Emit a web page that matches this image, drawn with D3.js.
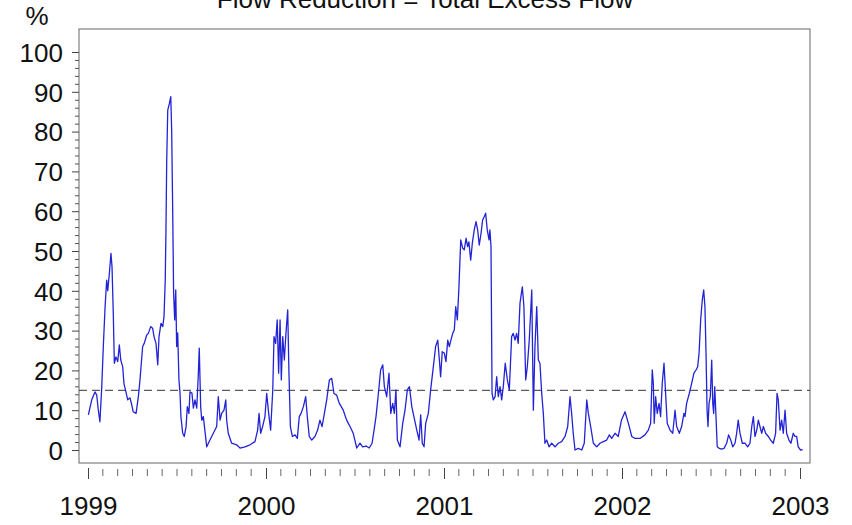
<!DOCTYPE html>
<html><head><meta charset="utf-8">
<script src="https://cdn.jsdelivr.net/npm/d3@7/dist/d3.min.js"></script>
<style>body{margin:0;background:#fff}svg{display:block}text{font-family:"Liberation Sans",Arial,sans-serif;fill:#111}</style>
</head><body><svg id="c" width="852" height="525"></svg>
<script>
const title = "Flow Reduction = Total Excess Flow";
const yLabel = "%";
const yearTicks = [1999, 2000, 2001, 2002, 2003];
const yTicks = [0,10,20,30,40,50,60,70,80,90,100];
const threshold = 15;
// decimal-year offsets from 1999
const t = [0.002,0.021,0.039,0.049,0.058,0.067,0.077,0.086,0.096,0.105,0.111,0.120,0.129,0.135,0.142,0.148,0.157,0.167,0.176,0.184,0.195,0.202,0.213,0.223,0.236,0.246,0.254,0.270,0.283,0.292,0.307,0.316,0.330,0.339,0.352,0.363,0.371,0.382,0.392,0.399,0.410,0.420,0.427,0.434,0.438,0.442,0.448,0.457,0.465,0.470,0.476,0.481,0.487,0.493,0.498,0.504,0.511,0.517,0.522,0.532,0.541,0.551,0.558,0.567,0.573,0.584,0.592,0.601,0.611,0.620,0.625,0.633,0.639,0.648,0.667,0.685,0.704,0.723,0.732,0.742,0.751,0.764,0.774,0.779,0.788,0.807,0.835,0.854,0.882,0.910,0.938,0.953,0.961,0.970,0.981,0.994,
1.004,1.015,1.026,1.038,1.045,1.054,1.063,1.071,1.079,1.086,1.094,1.103,1.112,1.122,1.129,1.137,1.148,1.163,1.176,1.187,1.197,1.210,1.223,1.232,1.243,1.257,1.275,1.290,1.303,1.315,1.328,1.341,1.356,1.369,1.382,1.397,1.412,1.434,1.453,1.472,1.490,1.510,1.528,1.543,1.562,1.580,1.596,1.607,1.618,1.631,1.644,1.656,1.665,1.678,1.691,1.701,1.712,1.721,1.730,1.738,1.753,1.768,1.781,1.794,1.806,1.819,1.831,1.847,1.860,1.869,1.878,1.888,1.897,1.912,1.925,1.940,1.953,1.965,1.974,1.981,1.990,
2.002,2.011,2.021,2.030,2.039,2.049,2.058,2.066,2.075,2.084,2.094,2.105,2.114,2.124,2.133,2.140,2.150,2.159,2.170,2.180,2.189,2.198,2.208,2.217,2.226,2.234,2.243,2.253,2.258,2.264,2.270,2.277,2.287,2.296,2.305,2.315,2.324,2.333,2.344,2.356,2.367,2.380,2.389,2.399,2.408,2.417,2.427,2.440,2.449,2.459,2.468,2.479,2.493,2.502,2.511,2.521,2.530,2.539,2.549,2.558,2.567,2.577,2.590,2.605,2.624,2.642,2.661,2.680,2.695,2.708,2.717,2.726,2.736,2.754,2.774,2.788,2.802,2.811,2.824,2.839,2.858,2.876,2.895,2.914,2.929,2.942,2.961,2.979,2.997,
3.017,3.036,3.055,3.073,3.101,3.129,3.148,3.161,3.170,3.176,3.181,3.189,3.198,3.208,3.217,3.226,3.236,3.246,3.254,3.270,3.285,3.298,3.307,3.322,3.335,3.348,3.354,3.363,3.378,3.391,3.404,3.416,3.425,3.433,3.442,3.451,3.459,3.466,3.472,3.478,3.483,3.489,3.496,3.504,3.510,3.515,3.521,3.528,3.535,3.547,3.560,3.573,3.588,3.599,3.611,3.622,3.635,3.644,3.653,3.663,3.676,3.691,3.706,3.719,3.729,3.738,3.747,3.757,3.766,3.775,3.785,3.794,3.807,3.822,3.835,3.850,3.863,3.871,3.878,3.888,3.897,3.906,3.916,3.925,3.938,3.949,3.962,3.972,3.981,3.990,4.003,4.015];
const values = [8.8,12.6,14.6,13.8,10,7.1,15.6,26,36,42.7,40,44.4,49.4,46,34.4,21.8,23.4,22.2,26.4,22.6,20.9,16.7,14.6,12.6,13.1,11.3,9.6,9.2,13.4,17.6,26,26.8,28.9,29.3,31,30.6,28.5,26.8,21.4,28.5,31.8,31,33.5,42.7,55.3,72,85.4,87,88.8,80.4,59.5,39.4,32.7,40.2,26,29.4,17.6,14.3,8.4,4.2,3.4,5.9,10.9,9.2,14.6,14.3,10.5,12.6,10.5,19.3,25.6,10.9,7.5,8.4,0.8,2.5,4.2,5.9,13.4,7.5,9.2,10,12.6,7.5,4.2,1.7,1.3,0.5,0.8,1.3,2.1,5,9.2,4.2,5.9,8.4,
14.2,9.2,5,15,28.5,26.8,32.7,19.3,32.7,17.6,28.5,22.6,29.3,35.2,19.3,5.9,3.4,3.8,2.9,8.4,9.2,10.9,13.4,8.4,3.4,2.5,3.4,5,7.5,5.9,9.2,12.6,17.6,18,14.2,13.8,11.7,10,7.5,5.9,4.2,0.5,1.7,0.8,1,0.5,1.7,5,8.4,14,20.1,21.4,15.9,13.4,19.3,9.2,11.7,9.2,15.1,2.5,0.8,6.7,10,15.1,15.9,10.9,8.4,5,2.5,8.8,1.7,0.8,6.7,9.2,15.1,20.9,26,27.6,22.6,18.4,24.7,
24.3,22.2,27.6,26,27.6,29.3,30.2,36,32.7,41,52.8,50.7,50.3,53.2,51.1,52.3,47.7,51.9,55.3,57.4,55.3,51.5,54.4,57.8,58.6,59.5,55.3,52.8,55.3,51.1,14.2,12.6,13.4,18.4,13.4,15.9,12.6,15.9,21.8,17.6,15.1,28.5,29.3,27.6,29.3,26.8,36.9,41,36,17.6,20.9,27.6,40.2,10,26,36,22.6,21.8,14.2,9.2,1.7,2.5,0.8,1.7,0.8,1.7,2.1,3.4,5.9,13.4,9.2,4.2,0,0.4,0,1.7,12.6,9.2,5.9,1.7,0.8,1.7,2.1,2.5,3.8,2.9,4.2,3.4,7.5,
9.6,6.7,3.4,2.9,2.9,3.8,5,6.7,20.1,16.7,6.7,13.4,9.2,11.7,8.4,16.7,21.8,13.4,6.7,5,4.2,10,5.9,4.2,5.9,9.2,8.4,11.7,14.2,16.7,19.3,20.1,20.9,24.3,32.7,37.7,40.2,36,24.3,10,5.9,11.7,13.4,22.6,11.7,9.2,15.9,8.4,0.8,0.4,0.2,0.4,1.7,3.8,2.5,0.8,1.7,4.2,7.5,4.2,1.7,1.7,0.8,1.7,5.9,8.4,3.4,5,7.5,5.9,4.2,5.9,4.2,3.4,2.5,1.7,4.2,14.2,12.6,5,7.5,4.2,10,4.2,2.5,1.7,4.2,3.4,3.4,0.8,0,0.1];

const svg = d3.select("#c");
const box = {l:79, r:810, t:29, b:463};
const x = d3.scaleLinear().domain([1999, 2003]).range([88, 800]);
const y = d3.scaleLinear().domain([0, 100]).range([450, 52]);
const fs = "26px";

// title (cut at top, as in the reference)
svg.append("text").attr("x", 425).attr("y", 8).attr("text-anchor","middle")
  .style("font-size", fs).text(title);
svg.append("text").attr("x", 37).attr("y", 25).attr("text-anchor","middle")
  .style("font-size", fs).text(yLabel);

// frame
svg.append("rect").attr("x", box.l).attr("y", box.t).attr("width", box.r-box.l).attr("height", box.b-box.t)
  .attr("fill","none").attr("stroke","#666").attr("stroke-width",1);

// y axis
const minorY = d3.range(0, 100.01, 2).filter(v => v % 10 !== 0);
svg.append("g").selectAll("line").data(minorY).join("line")
  .attr("x1", box.l-4).attr("x2", box.l).attr("y1", d=>y(d)+0.5).attr("y2", d=>y(d)+0.5)
  .attr("stroke","#555").attr("stroke-width",1);
const yAxis = d3.axisLeft(y).tickValues(yTicks).tickSize(7).tickPadding(9).tickFormat(d3.format("d"));
const gy = svg.append("g").attr("transform", `translate(${box.l},0)`).call(yAxis);
gy.select(".domain").remove();
gy.selectAll(".tick line").attr("stroke","#444");
gy.selectAll("text").style("font-size", fs).attr("fill","#111").attr("dy","0.36em");

// x axis
const minorX = d3.range(0, 48).map(i => 1999 + i/12).filter((d,i) => i % 12 !== 0);
svg.append("g").selectAll("line").data(minorX).join("line")
  .attr("x1", d=>x(d)).attr("x2", d=>x(d)).attr("y1", box.b+6).attr("y2", box.b+13)
  .attr("stroke","#666").attr("stroke-width",1);
const xAxis = d3.axisBottom(x).tickValues(yearTicks).tickSize(11).tickPadding(18).tickFormat(d3.format("d"));
const gx = svg.append("g").attr("transform", `translate(0,${box.b+5})`).call(xAxis);
gx.select(".domain").remove();
gx.selectAll(".tick line").attr("stroke","#444");
gx.selectAll("text").style("font-size", fs).attr("fill","#111");

// threshold dashed line
svg.append("line").attr("x1", box.l).attr("x2", box.r).attr("y1", y(threshold)).attr("y2", y(threshold))
  .attr("stroke","#333").attr("stroke-width",1).attr("stroke-dasharray","8,5");

// series
const data = t.map((d,i) => ({x: 1999 + d, v: values[i]}));
svg.append("path").datum(data)
  .attr("fill","none").attr("stroke","#2323d6").attr("stroke-width",1.3).attr("stroke-linejoin","round")
  .attr("d", d3.line().x(d=>x(d.x)).y(d=>y(d.v)));
</script></body></html>
